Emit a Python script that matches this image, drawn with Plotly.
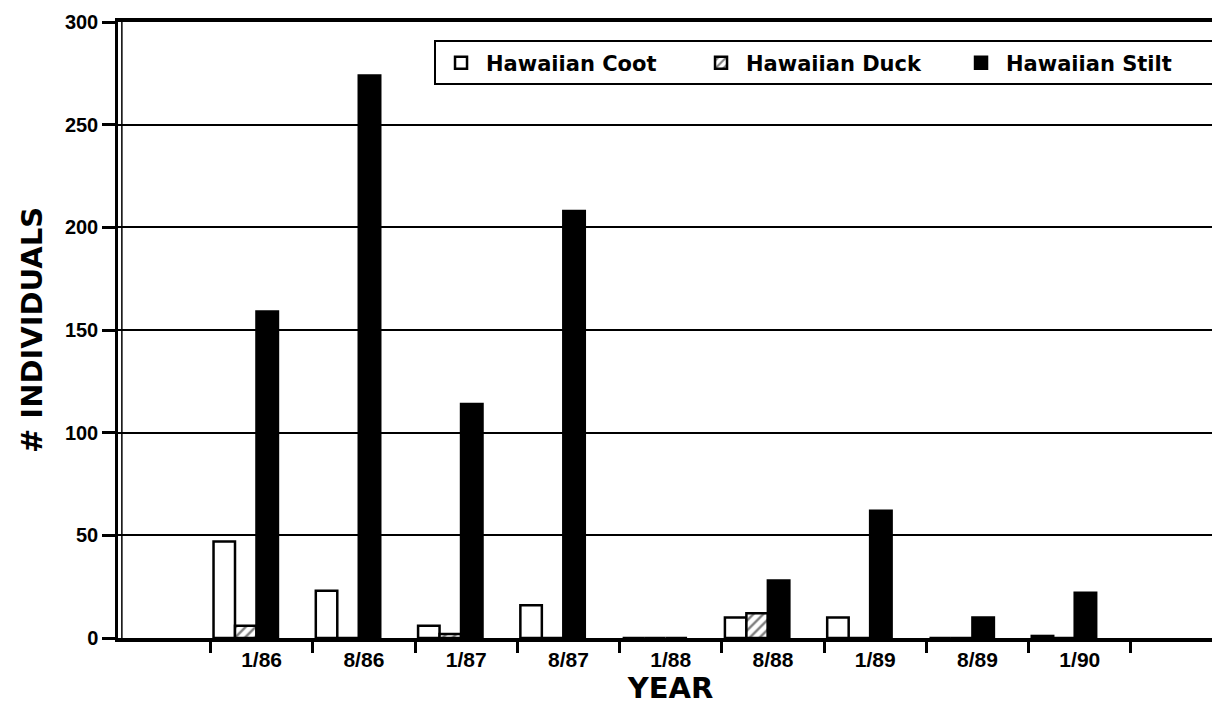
import plotly.graph_objects as go

categories = ["1/86", "8/86", "1/87", "8/87", "1/88", "8/88", "1/89", "8/89", "1/90"]
coot = [47, 23, 6, 16, 0, 10, 10, 0, 1]
duck = [6, 0, 2, 0, 0, 12, 0, 0, 0]
stilt = [159, 274, 114, 208, 0, 28, 62, 10, 22]
y_ticks = [0, 50, 100, 150, 200, 250, 300]

TICKFONT = "Liberation Sans, Arial, sans-serif"
TEXTFONT = "DejaVu Sans, Verdana, sans-serif"

BAR_W = 0.21
fig = go.Figure()
fig.add_trace(go.Bar(
    x=categories, y=coot, name="Hawaiian Coot", width=BAR_W, offset=-0.47,
    marker=dict(color="white", line=dict(color="black", width=2.5)),
))
fig.add_trace(go.Bar(
    x=categories, y=duck, name="Hawaiian Duck", width=BAR_W, offset=-0.26,
    marker=dict(color="white", line=dict(color="black", width=2.5),
                pattern=dict(shape="/", fgcolor="black", bgcolor="white",
                             size=7, solidity=0.35)),
))
fig.add_trace(go.Bar(
    x=categories, y=stilt, name="Hawaiian Stilt", width=BAR_W, offset=-0.05,
    marker=dict(color="black", line=dict(color="black", width=2.5)),
))

fig.update_layout(
    width=1220, height=707,
    margin=dict(l=110, r=5, t=14, b=77),
    paper_bgcolor="white", plot_bgcolor="white",
    barmode="overlay",
    font=dict(family=TICKFONT, color="black", size=20, weight="bold"),
    showlegend=True,
    legend=dict(
        orientation="h", x=0.286, y=0.97, xanchor="left", yanchor="top",
        bordercolor="black", borderwidth=2, bgcolor="white",
        font=dict(family=TEXTFONT, size=21, color="black", weight="bold"),
        itemwidth=40, entrywidth=205, entrywidthmode="pixels",
        traceorder="normal",
    ),
    xaxis=dict(
        type="category", categoryorder="array", categoryarray=categories,
        range=[-1.404, 9.40], automargin=False,
        tickson="boundaries", ticks="outside", ticklen=11, tickwidth=2.5,
        tickcolor="black",
        showline=True, linecolor="black", linewidth=3.5, mirror=True,
        showgrid=False, zeroline=False,
        tickfont=dict(family=TICKFONT, size=21, color="black", weight="bold"),
        title=dict(text="YEAR", standoff=2,
                   font=dict(family=TEXTFONT, size=29, color="black", weight="bold")),
    ),
    yaxis=dict(
        range=[0, 300], tickvals=y_ticks, ticktext=[str(v) for v in y_ticks],
        automargin=False,
        ticks="outside", ticklen=13, tickwidth=2.5, tickcolor="black",
        showline=True, linecolor="black", linewidth=2.5, mirror=True,
        showgrid=True, gridcolor="black", gridwidth=1.5,
        zeroline=False,
        tickfont=dict(family=TICKFONT, size=20, color="black", weight="bold"),
        title=dict(text="# INDIVIDUALS", standoff=14,
                   font=dict(family=TEXTFONT, size=29, color="black", weight="bold")),
    ),
    shapes=[dict(type="line", xref="paper", yref="paper",
                 x0=0.0035, x1=0.0035, y0=0, y1=1,
                 line=dict(color="black", width=1.5), layer="above")],
)

fig.write_html("out.html")
